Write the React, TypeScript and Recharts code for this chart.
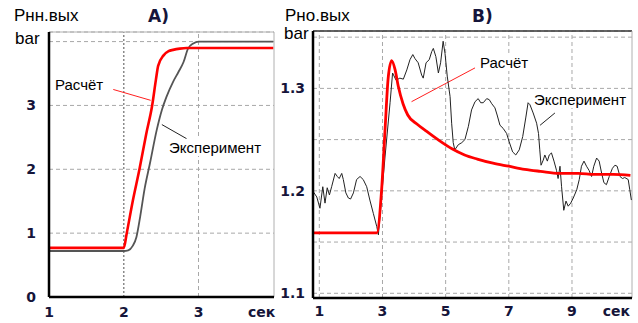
import { CartesianGrid, Line, LineChart, ReferenceLine, XAxis, YAxis } from 'recharts';

// Panel A: time (sec) / pressure (bar)
const calcA: [number, number][] = [
  [1, 0.77], [2.0, 0.77], [2.04, 1.0], [2.12, 1.5], [2.21, 2.0], [2.3, 2.55], [2.38, 3.0],
  [2.43, 3.4], [2.46, 3.62], [2.53, 3.78], [2.6, 3.85], [2.66, 3.87], [2.75, 3.89], [2.84, 3.9], [4.0, 3.9],
];
const expA: [number, number][] = [
  [1, 0.72], [2.0, 0.72], [2.06, 0.73], [2.12, 0.8], [2.17, 0.94], [2.22, 1.26], [2.28, 1.7],
  [2.35, 2.09], [2.44, 2.61], [2.51, 2.93], [2.57, 3.13], [2.66, 3.37], [2.73, 3.52], [2.8, 3.68],
  [2.86, 3.89], [2.93, 3.97], [3.0, 4.0], [4.0, 4.0],
];

// Panel B
const calcB: [number, number][] = [
  [0.8, 1.159], [2.82, 1.159], [2.97, 1.2], [3.08, 1.259], [3.18, 1.31], [3.29, 1.327], [3.4, 1.318],
  [3.5, 1.302], [3.65, 1.285], [3.8, 1.274], [4.1, 1.265], [4.4, 1.258], [4.8, 1.249], [5.2, 1.241],
  [5.6, 1.235], [6.0, 1.231], [6.5, 1.227], [7.0, 1.224], [7.5, 1.221], [8.0, 1.219], [8.6, 1.217],
  [9.2, 1.217], [9.7, 1.216], [10.3, 1.216], [10.85, 1.215],
];
const expB: [number, number][] = [
  [0.81, 1.199], [0.92, 1.194], [1.02, 1.183], [1.11, 1.204], [1.18, 1.188], [1.25, 1.203], [1.32, 1.196],
  [1.39, 1.204], [1.5, 1.217], [1.57, 1.214], [1.63, 1.212], [1.71, 1.217], [1.76, 1.211], [1.84, 1.198],
  [1.92, 1.193], [1.99, 1.192], [2.08, 1.198], [2.18, 1.211], [2.29, 1.214], [2.39, 1.211], [2.5, 1.204],
  [2.6, 1.191], [2.71, 1.178], [2.82, 1.165], [2.87, 1.157], [2.97, 1.194], [3.08, 1.233], [3.24, 1.286],
  [3.32, 1.315], [3.43, 1.308], [3.55, 1.31], [3.66, 1.309], [3.77, 1.318], [3.87, 1.328], [3.96, 1.333],
  [4.03, 1.329], [4.13, 1.325], [4.24, 1.313], [4.29, 1.31], [4.38, 1.325], [4.48, 1.328], [4.56, 1.336],
  [4.61, 1.339], [4.69, 1.331], [4.77, 1.315], [4.84, 1.325], [4.92, 1.346], [4.98, 1.334], [5.05, 1.312],
  [5.14, 1.292], [5.19, 1.266], [5.24, 1.247], [5.29, 1.24], [5.4, 1.245], [5.51, 1.247], [5.61, 1.25],
  [5.72, 1.263], [5.82, 1.279], [5.93, 1.287], [6.03, 1.29], [6.11, 1.286], [6.19, 1.286], [6.3, 1.29],
  [6.38, 1.289], [6.46, 1.285], [6.56, 1.281], [6.63, 1.274], [6.72, 1.264], [6.82, 1.261], [6.93, 1.256],
  [7.01, 1.248], [7.12, 1.238], [7.22, 1.235], [7.33, 1.24], [7.44, 1.253], [7.54, 1.272], [7.61, 1.286],
  [7.67, 1.284], [7.77, 1.276], [7.88, 1.266], [7.94, 1.256], [7.98, 1.24], [8.02, 1.225], [8.09, 1.23],
  [8.14, 1.235], [8.22, 1.229], [8.28, 1.235], [8.35, 1.237], [8.43, 1.229], [8.51, 1.22], [8.56, 1.212],
  [8.62, 1.224], [8.67, 1.204], [8.74, 1.181], [8.81, 1.19], [8.88, 1.185], [8.96, 1.188], [9.04, 1.193],
  [9.15, 1.201], [9.23, 1.211], [9.3, 1.224], [9.38, 1.229], [9.46, 1.224], [9.54, 1.22], [9.62, 1.214],
  [9.69, 1.224], [9.78, 1.232], [9.86, 1.229], [9.94, 1.217], [10.01, 1.208], [10.09, 1.206], [10.18, 1.214],
  [10.28, 1.222], [10.36, 1.225], [10.43, 1.224], [10.52, 1.214], [10.6, 1.212], [10.67, 1.213],
  [10.78, 1.211], [10.83, 1.201], [10.88, 1.191],
];

const ticksXA = [1, 2, 3, 4];
const ticksYA = [0, 1, 2, 3, 4];
const ticksXB = [1, 3, 5, 7, 9, 10.9];
const ticksYB = [1.1, 1.15, 1.2, 1.25, 1.3, 1.35];
const labelsYB: Record<string, string> = { '1.1': '1.1', '1.2': '1.2', '1.3': '1.3' };

const toPts = (arr: [number, number][]) => arr.map(([t, p]) => ({ t, p }));

const numFont = { fontFamily: 'DejaVu Sans', fontWeight: 'bold', fontSize: 14, fill: '#15153a' } as const;
const gridColor = '#a8a8a8';
const sans = 'Liberation Sans, Arial';

function YTickA(props: any) {
  const { x, y, payload } = props;
  if (payload.value === 4) return null;
  return <text x={x} y={y + 5} textAnchor="end" style={numFont}>{payload.value}</text>;
}

function XTickA(props: any) {
  const { x, y, payload } = props;
  if (payload.value === 4) {
    return <text x={x + 2} y={y + 20} textAnchor="end" style={numFont}>сек</text>;
  }
  return <text x={x} y={y + 20} textAnchor="middle" style={numFont}>{payload.value}</text>;
}

function YTickB(props: any) {
  const { x, y, payload } = props;
  const lbl = labelsYB[String(payload.value)];
  if (!lbl) return null;
  return <text x={x} y={y + 5} textAnchor="end" style={numFont}>{lbl}</text>;
}

function XTickB(props: any) {
  const { x, y, payload } = props;
  if (payload.value === 10.9) {
    return <text x={x - 2} y={y + 18} textAnchor="end" style={numFont}>сек</text>;
  }
  return <text x={x} y={y + 18} textAnchor="middle" style={numFont}>{payload.value}</text>;
}

const abs = (left: number, top: number, extra: any = {}) => ({
  position: 'absolute' as const, left, top, lineHeight: 1, whiteSpace: 'nowrap' as const, ...extra,
});

export default function App() {
  return (
    <div style={{ position: 'absolute', left: 0, top: 0, width: 638, height: 323, background: '#fff', overflow: 'hidden' }}>
      <div style={{ position: 'absolute', left: 0, top: 0 }}>
        <LineChart width={290} height={323} margin={{ top: 32, right: 16, bottom: 0, left: 19 }}>
          <CartesianGrid vertical={false} stroke={gridColor} strokeDasharray="4 3" />
          <XAxis
            type="number" dataKey="t" domain={[1, 4.01]} ticks={ticksXA} interval={0} height={26}
            tickSize={0} tickMargin={0} tick={<XTickA />} axisLine={{ stroke: '#000', strokeWidth: 2.5 }}
            allowDataOverflow
          />
          <YAxis
            type="number" dataKey="p" domain={[0, 4.15]} ticks={ticksYA} interval={0} width={30}
            tickSize={0} tickMargin={13} tick={<YTickA />} axisLine={{ stroke: '#000', strokeWidth: 2.5 }}
            allowDataOverflow
          />
          <ReferenceLine x={2} stroke="#8a8a8a" strokeWidth={1.5} strokeDasharray="2 2" />
          <ReferenceLine x={3} stroke={gridColor} strokeDasharray="4 3" />
          <ReferenceLine y={4.15} stroke="#b0b0b0" />
          <ReferenceLine x={4.01} stroke="#b0b0b0" />
          <ReferenceLine segment={[{ x: 1.86, y: 3.25 }, { x: 2.36, y: 3.08 }]} stroke="#ff2020" strokeWidth={1} />
          <ReferenceLine segment={[{ x: 2.51, y: 2.7 }, { x: 2.84, y: 2.48 }]} stroke="#222" strokeWidth={1} />
          <Line data={toPts(expA)} dataKey="p" type="monotone" dot={false} stroke="#555" strokeWidth={1.8} isAnimationActive={false} />
          <Line data={toPts(calcA)} dataKey="p" type="monotone" dot={false} stroke="#ff0000" strokeWidth={2.6} isAnimationActive={false} />
        </LineChart>
      </div>
      <div style={{ position: 'absolute', left: 270, top: 0 }}>
        <LineChart width={368} height={323} margin={{ top: 31, right: 6, bottom: 0, left: 3 }}>
          <CartesianGrid vertical={false} stroke={gridColor} strokeDasharray="4 3" />
          <XAxis
            type="number" dataKey="t" domain={[0.8, 10.9]} ticks={ticksXB} interval={0} height={25}
            tickSize={0} tickMargin={0} tick={<XTickB />} axisLine={{ stroke: '#000', strokeWidth: 2.5 }}
            allowDataOverflow
          />
          <YAxis
            type="number" dataKey="p" domain={[1.0954, 1.356]} ticks={ticksYB} interval={0} width={40}
            tickSize={0} tickMargin={8} tick={<YTickB />} axisLine={{ stroke: '#000', strokeWidth: 2.5 }}
            allowDataOverflow
          />
          {[1, 3, 5, 7, 9].map((v) => (
            <ReferenceLine key={v} x={v} stroke={gridColor} strokeDasharray="4 3" />
          ))}
          <ReferenceLine y={1.356} stroke="#333" strokeWidth={1.5} />
          <ReferenceLine x={10.9} stroke="#b0b0b0" />
          <ReferenceLine segment={[{ x: 3.92, y: 1.287 }, { x: 5.93, y: 1.32 }]} stroke="#ff2020" strokeWidth={1} />
          <ReferenceLine segment={[{ x: 7.99, y: 1.264 }, { x: 8.46, y: 1.276 }]} stroke="#222" strokeWidth={1} />
          <Line data={toPts(expB)} dataKey="p" type="linear" dot={false} stroke="#222" strokeWidth={1} isAnimationActive={false} />
          <Line data={toPts(calcB)} dataKey="p" type="monotone" dot={false} stroke="#ff0000" strokeWidth={2.8} isAnimationActive={false} />
        </LineChart>
      </div>

      <div style={abs(14, 7, { fontFamily: sans, fontSize: 17 })}>Рнн.вых</div>
      <div style={abs(15, 30, { fontFamily: sans, fontSize: 17 })}>bar</div>
      <div style={abs(148, 8, { fontFamily: 'DejaVu Sans', fontWeight: 'bold', fontSize: 17, color: '#15153a' })}>А)</div>
      <div style={abs(285, 7, { fontFamily: sans, fontSize: 17 })}>Рно.вых</div>
      <div style={abs(284, 25, { fontFamily: sans, fontSize: 17 })}>bar</div>
      <div style={abs(472, 8, { fontFamily: 'DejaVu Sans', fontWeight: 'bold', fontSize: 17, color: '#15153a' })}>В)</div>

      <div style={abs(54, 76, { fontFamily: sans, fontSize: 15, background: '#fff', padding: '1px 1px' })}>Расчёт</div>
      <div style={abs(168, 139, { fontFamily: sans, fontSize: 15, background: '#fff', padding: '1px 1px' })}>Эксперимент</div>
      <div style={abs(479, 54, { fontFamily: sans, fontSize: 15, background: '#fff', padding: '1px 1px' })}>Расчёт</div>
      <div style={abs(533, 91, { fontFamily: sans, fontSize: 15, background: '#fff', padding: '1px 1px' })}>Эксперимент</div>
    </div>
  );
}
